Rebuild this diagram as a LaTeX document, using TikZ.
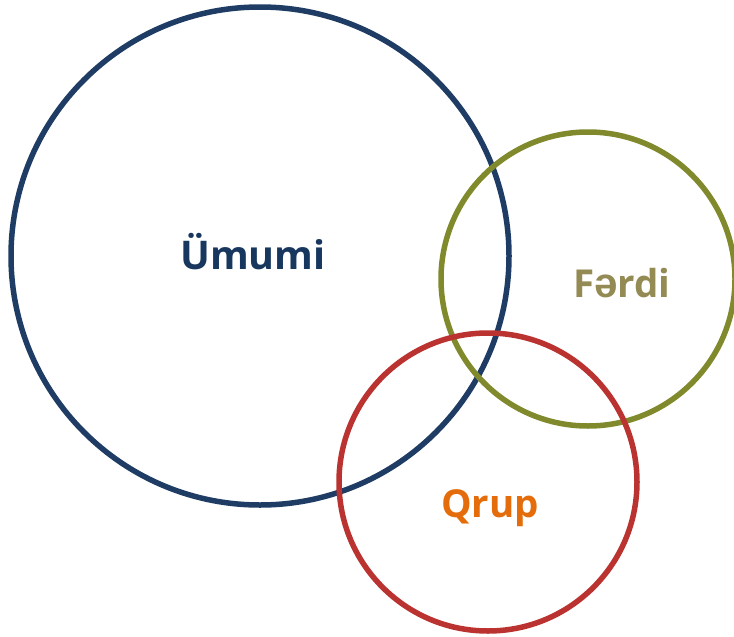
\documentclass[tikz,border=0pt]{standalone}
\usepackage{fontspec}
\setmainfont{Open Sans}
\newfontfamily\schwafont{Liberation Sans}
\usepackage{xcolor}
\usepackage{tikz}
\definecolor{umumiblue}{HTML}{1F3D64}
\definecolor{umumitext}{HTML}{17375E}
\definecolor{ferdiolive}{HTML}{808A2C}
\definecolor{ferditext}{HTML}{948A54}
\definecolor{qrupred}{HTML}{BA3330}
\definecolor{quruptext}{HTML}{E46C0A}
\tikzset{
  ring/.style={line width=5.5pt},
  ringlabel/.style={font=\fontsize{39.5}{44}\selectfont\bfseries, inner sep=0pt}
}

\begin{document}
\begin{tikzpicture}[x=1pt,y=-1pt]
				\useasboundingbox (0,0) rectangle (734,637);
				\coordinate (U) at (260,256);
				\coordinate (F) at (588,279);
				\coordinate (Q) at (488,482);
				\draw[ring,umumiblue] (U) circle[radius=249];
				\draw[ring,ferdiolive] (F) circle[radius=147];
				\draw[ring,qrupred] (Q) circle[radius=149];
				\node[ringlabel,text=umumitext] (umumi) at (253,252) {Ümumi};
				\node[ringlabel,text=ferditext,font=\fontsize{38.5}{44}\selectfont\bfseries] (ferdi) at (622,283) {F{\schwafont\fontsize{42}{44}\selectfont\bfseries ə}rdi};
				\node[ringlabel,text=quruptext,font=\fontsize{38.5}{44}\selectfont\bfseries] (qrup) at (490,508) {Qrup};
			\end{tikzpicture}
\end{document}
